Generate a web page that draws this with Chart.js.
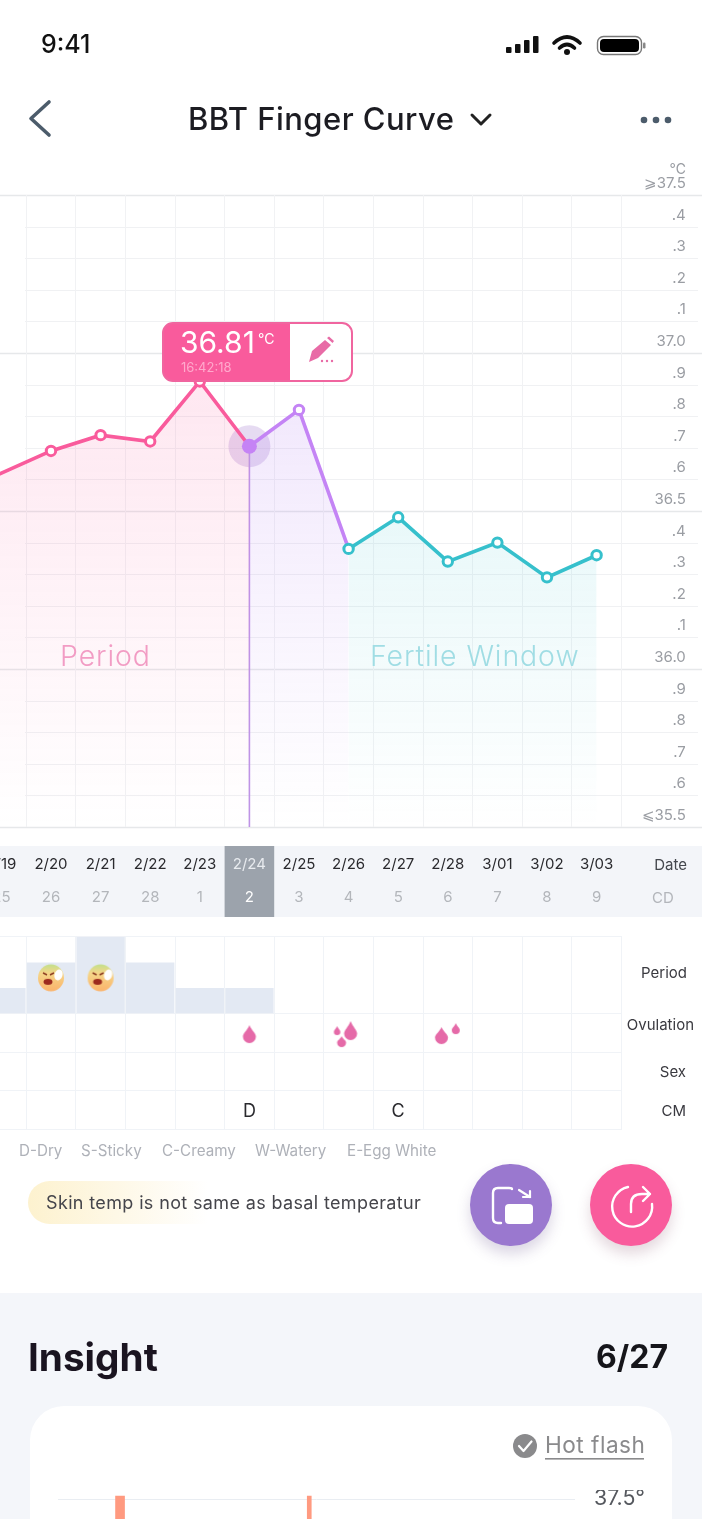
<!DOCTYPE html>
<html><head><meta charset="utf-8">
<script src="https://cdn.jsdelivr.net/npm/chart.js@4"></script>
<style>
html,body{margin:0;padding:0;background:#fff;overflow:hidden}
#page{position:relative;width:702px;height:1519px;overflow:hidden;background:#fff;font-family:Inter,"Noto Sans",sans-serif;color:#222}
.t{position:absolute;white-space:nowrap;transform:translateY(-50%);line-height:1}
.abs{position:absolute}
canvas{position:absolute;display:block}
svg{position:absolute;overflow:visible}
</style></head><body><div id="page">
<div class="abs" style="left:0;top:846px;width:702px;height:71px;background:#f3f5f9"></div>
<div class="abs" style="left:0;top:1293px;width:702px;height:226px;background:#f4f6fa"></div>
<div class="abs" style="left:30px;top:1406px;width:642px;height:200px;background:#fff;border-radius:34px"></div>
<canvas id="main" style="left:-50px;top:150px"></canvas>
<div class="abs" style="left:0;top:930px;width:621.6px;height:210px;overflow:hidden"><canvas id="rows" style="left:-50px;top:0"></canvas></div>
<canvas id="insight" style="left:0;top:1490px"></canvas>
<div class="abs" style="left:28px;top:1181px;width:400px;height:43px;border-radius:22px;background:linear-gradient(90deg,#fdf2cf 0%,#fef8e6 22%,#fff 45%)"></div>
<div class="abs" style="left:470px;top:1164px;width:82px;height:82px;border-radius:50%;background:#9a78cf;box-shadow:0 8px 14px rgba(90,70,130,.22)"></div>
<div class="abs" style="left:590px;top:1164px;width:82px;height:82px;border-radius:50%;background:#f95b9c;box-shadow:0 8px 14px rgba(120,60,90,.2)"></div>
<svg style="left:0;top:0" width="702" height="1519" viewBox="0 0 702 1519">
  <g fill="#111"><rect x="506" y="47" width="5.5" height="6" rx="1"/><rect x="515" y="44" width="5.5" height="9" rx="1"/><rect x="524" y="40" width="5.5" height="13" rx="1"/><rect x="533" y="36" width="5.5" height="17" rx="1"/></g>
  <g fill="none" stroke="#111" stroke-width="3.6" stroke-linecap="round"><path d="M554 43 Q567 31 580 43"/><path d="M559.5 48 Q567 41 574.5 48"/></g><circle cx="567" cy="52" r="3" fill="#111"/>
  <rect x="597.5" y="36.5" width="44" height="18" rx="6" fill="none" stroke="#777" stroke-width="1.4"/><rect x="600" y="39" width="39" height="13" rx="4" fill="#000"/><rect x="643" y="42.5" width="2.5" height="6" rx="1.2" fill="#888"/>
  <path d="M49 102 L31 118.500 L49 135" fill="none" stroke="#4c5c6b" stroke-width="3.6" stroke-linecap="round" stroke-linejoin="round"/>
  <path d="M472 115 L481 124 L490 115" fill="none" stroke="#222" stroke-width="3" stroke-linecap="round" stroke-linejoin="round"/>
  <g fill="#4c5c6b"><circle cx="644" cy="120" r="3.300"/><circle cx="656" cy="120" r="3.300"/><circle cx="668" cy="120" r="3.300"/></g>
  <path d="M512 1189 Q512 1188 509 1188 H498 Q493 1188 493 1193 V1218 Q493 1223 498 1223 H501" fill="none" stroke="#fff" stroke-width="2.4" stroke-linecap="round"/>
  <rect x="505" y="1204" width="28" height="20" rx="4" fill="#fff"/>
  <path d="M519 1190 L530 1197 M530 1191 V1197 H523" fill="none" stroke="#fff" stroke-width="2.2" stroke-linecap="round"/>
  <path d="M628 1187 A20 20 0 1 0 652 1204" fill="none" stroke="#fff" stroke-width="2.4" stroke-linecap="round"/>
  <path d="M631 1212 V1204 Q631 1194 642 1194 H650 M643 1187 L650 1194 L643 1201" fill="none" stroke="#fff" stroke-width="2.4" stroke-linecap="round" stroke-linejoin="round"/>
  <circle cx="525" cy="1446" r="12" fill="#8a8a8c"/><path d="M519 1446 L523.500 1451 L531.500 1441.500" fill="none" stroke="#fff" stroke-width="2.2" stroke-linecap="round" stroke-linejoin="round"/>
  <rect x="545" y="1458" width="99" height="1.6" fill="#8a8a8c"/>
</svg>
<div class="abs" style="left:162px;top:322px;width:191px;height:60px;box-sizing:border-box;border:2px solid #f0659f;border-radius:11px;background:linear-gradient(90deg,#f95b9c 0,#f95b9c 126px,#fff 126px)"></div>
<svg style="left:0;top:0" width="702" height="600">
  <path d="M309 362 L312 351 L325 340 L331 345 L318 358 Z M327 338 L329 336.500 L334 341 L332.500 343 Z" fill="#e86ba6"/>
  <g fill="#e86ba6"><circle cx="322" cy="361" r="1.200"/><circle cx="327" cy="361" r="1.200"/><circle cx="332" cy="361" r="1.200"/></g>
</svg>
<div id="texts"></div>
</div>
<script>
// ---- main temperature curve ----
const dates = ['2/18','2/19','2/20','2/21','2/22','2/23','2/24','2/25','2/26','2/27','2/28','3/01','3/02','3/03','',''];
const cycleDays = ['24','25','26','27','28','1','2','3','4','5','6','7','8','9','',''];
const periodTemps = [36.55,36.62,36.69,36.74,36.72,36.91,36.705,null,null,null,null,null,null,null,null,null];
const ovulationTemps = [null,null,null,null,null,null,36.705,36.82,36.38,null,null,null,null,null,null,null];
const fertileTemps = [null,null,null,null,null,null,null,null,36.38,36.48,36.34,36.40,36.29,36.36,null,null];
const selectedTemps = [null,null,null,null,null,null,36.705,null,null,null,null,null,null,null,null,null];
const selectedDate = '2/24';
const tempTickLabels = {'37.5':'\u2A7E37.5','37.4':'.4','37.3':'.3','37.2':'.2','37.1':'.1','37.0':'37.0','36.9':'.9','36.8':'.8','36.7':'.7','36.6':'.6','36.5':'36.5','36.4':'.4','36.3':'.3','36.2':'.2','36.1':'.1','36.0':'36.0','35.9':'.9','35.8':'.8','35.7':'.7','35.6':'.6','35.5':'\u2A7D35.5'};
// ---- lower table ----
const periodFlow = [1,1,2,3,2,1,1,0,0,0,0,0,0,0,0,0];
const moodRow = [null,null,1.4,1.4,null,null,null,null,null,null,null,null,null,null,null,null];
const dropCounts = [0,0,0,0,0,0,1,0,3,0,2,0,0,0,0,0];
const cmRow = ['','','','','','','D','','','C','','','','','',''];
// ---- insight card ----
const hotFlashX = [12,48.6];
const hotFlashTop = [37.52,37.52];

const FONT = 'Inter, "Noto Sans", sans-serif';
const W = 752, PADL = 1.8, PADR = 6.2;
Chart.defaults.font.family = FONT;
const texts = document.getElementById('texts');
function T(s,x,y,size,color,opt={}){
  const e=document.createElement('span');e.className='t';e.textContent=s;
  e.style.cssText=`top:${y}px;font-size:${size}px;color:${color};font-weight:${opt.w||400};letter-spacing:${opt.ls||0}px;`+
   (opt.right!==undefined?`right:${702-opt.right}px;`:opt.center?`left:${x}px;transform:translate(-50%,-50%);`:`left:${x}px;`);
  texts.appendChild(e);
}
function sizeCanvas(c,w,h){c.width=w;c.height=h;c.style.width=w+'px';c.style.height=h+'px';}
function noPad(s){s.paddingLeft=0;s.paddingRight=0;s.paddingTop=0;s.paddingBottom=0;}

function grad(ctx,top,bottom,c0,c1){
  const g=ctx.chart.ctx.createLinearGradient(0,top,0,bottom);g.addColorStop(0,c0);g.addColorStop(1,c1);return g;
}

const gridPlugin={id:'tempGrid',beforeDraw(chart){
  const {ctx,scales:{x,y}}=chart;
  const sx=x.getPixelForValue(selectedDate), half=(x.getPixelForValue(dates[1])-x.getPixelForValue(dates[0]))/2;
  ctx.save();ctx.fillStyle='#9ca3ac';ctx.fillRect(sx-half,696,half*2,71);
  y.ticks.forEach(t=>{
    const yy=Math.round(y.getPixelForValue(t.value))+.5;
    const major=Math.abs(t.value*2-Math.round(t.value*2))<1e-6;
    ctx.strokeStyle=major?'#e6e8ea':'#f0f1f3';ctx.lineWidth=major?1.5:1.2;
    ctx.beginPath();ctx.moveTo(major?0:75,yy);ctx.lineTo(major?752:748,yy);ctx.stroke();
  });
  ctx.restore();
},beforeDatasetsDraw(chart){
  const {ctx,scales:{x,y},chartArea:a}=chart;
  const sx=x.getPixelForValue(selectedDate);
  ctx.save();ctx.strokeStyle='#bf94e6';ctx.lineWidth=1.6;ctx.beginPath();
  ctx.moveTo(sx,y.getPixelForValue(selectedTemps[6]));ctx.lineTo(sx,a.bottom);ctx.stroke();ctx.restore();
}};

const mainCanvas=document.getElementById('main');sizeCanvas(mainCanvas,W,780);
function lineSet(label,data,color,fill0,radii,fillTop){
  return {label,data,borderColor:color,borderWidth:3.6,tension:0,spanGaps:false,clip:false,
    pointRadius:radii,pointBorderWidth:3,pointBorderColor:color,pointBackgroundColor:'#fff',
    fill:'start',backgroundColor:c=>grad(c,fillTop,677,fill0,fill0.replace(/[\d.]+\)$/,'0)'))};
}
const mainChart=new Chart(mainCanvas,{
  type:'line',plugins:[gridPlugin],
  data:{labels:dates,datasets:[
    {label:'selected',data:selectedTemps,pointRadius:7.5,pointBackgroundColor:'#c583f5',pointBorderWidth:0,showLine:false,clip:false},
    lineSet('fertile',fertileTemps,'#36c0cc','rgba(54,192,204,0.11)',4.7,370),
    lineSet('ovulation',ovulationTemps,'#c484f5','rgba(176,120,240,0.17)',[0,0,0,0,0,0,0,4.7,0,0,0,0,0,0,0,0],250),
    lineSet('period',periodTemps,'#f95b9c','rgba(249,91,156,0.15)',[0,0,4.7,4.7,4.7,4.7,0,0,0,0,0,0,0,0,0,0],220),
    {label:'halo',data:selectedTemps,pointRadius:21,pointBackgroundColor:'rgba(190,160,220,0.38)',pointBorderWidth:0,showLine:false,clip:false}
  ]},
  options:{responsive:false,animation:false,
    layout:{autoPadding:false,padding:{top:45,left:PADL,right:PADR,bottom:0}},
    plugins:{legend:{display:false},tooltip:{enabled:false}},
    scales:{
      x:{type:'category',offset:false,position:'bottom',
        grid:{offset:true,drawTicks:false,tickLength:0,color:c=>c.index>=15?'rgba(0,0,0,0)':'#f1f2f4',lineWidth:1},
        border:{display:false},
        ticks:{autoSkip:false,maxRotation:0,minRotation:0,padding:28.5,font:{size:15},
          color:c=>dates[c.index]===selectedDate?'#e8ebef':'#2a2a2e'},
        afterFit(s){noPad(s);s.height=56;}},
      x2:{type:'category',labels:cycleDays,offset:false,position:'bottom',
        grid:{display:false,drawTicks:false,tickLength:0},border:{display:false},
        ticks:{autoSkip:false,maxRotation:0,minRotation:0,padding:5,font:{size:15},
          color:c=>dates[c.index]===selectedDate?'#ffffff':'#b3b6bb'},
        afterFit(s){noPad(s);s.height=47;}},
      y:{min:35.5,max:37.5,position:'right',
        grid:{display:false,drawTicks:false,tickLength:0},border:{display:false},
        ticks:{stepSize:0.1,autoSkip:false,mirror:true,padding:-10,labelOffset:-11.5,font:{size:15},color:'#9a9da3',
          callback:v=>tempTickLabels[Number(v).toFixed(1)]||''},
        afterFit(s){noPad(s);s.width=0;}}
    }
  }
});

function sprite(w,h,paint){const c=document.createElement('canvas');c.width=w;c.height=h;const g=c.getContext('2d');g.translate(w/2,h/2);paint(g);return c;}
function drop(g,cx,top,w,h){
  const r=w/2,cy=top+h-r;g.fillStyle='#e56aa8';g.beginPath();g.moveTo(cx,top);
  g.bezierCurveTo(cx+r*.35,top+h*.3,cx+r,cy-r*.5,cx+r,cy);g.arc(cx,cy,r,0,Math.PI);
  g.bezierCurveTo(cx-r,cy-r*.5,cx-r*.35,top+h*.3,cx,top);g.fill();
}
const dropSprites={
 1:sprite(40,40,g=>drop(g,0,-8,13,18)),
 3:sprite(40,40,g=>{drop(g,2,-12,13,19);drop(g,-11.5,-7,6.5,9);drop(g,-7,3,9,11);}),
 2:sprite(40,40,g=>{drop(g,-6.3,-6,13,17);drop(g,8,-10,8,11);})
};
const moodSprite=sprite(30,30,g=>{
  const b=g.createLinearGradient(0,-14,0,14);b.addColorStop(0,'#bfe08a');b.addColorStop(.32,'#f5d78a');b.addColorStop(1,'#fbb26a');
  g.fillStyle=b;g.beginPath();g.ellipse(0,0,13,13.5,0,0,7);g.fill();
  g.fillStyle='#9c2a1e';g.beginPath();g.ellipse(-3,4,4.5,3,0,0,7);g.fill();
  g.strokeStyle='#8a3a20';g.lineWidth=1.4;g.beginPath();g.moveTo(-8,-5);g.lineTo(-4,-3);g.moveTo(3,-5);g.lineTo(-1,-3);g.stroke();
  g.fillStyle='#fff';g.beginPath();g.ellipse(7.5,-3,4,5.5,.3,0,7);g.fill();
});

const rowsCanvas=document.getElementById('rows');sizeCanvas(rowsCanvas,W,210);
const LINE='#f0f3f7';
const rowsChart=new Chart(rowsCanvas,{
  type:'bar',
  data:{labels:dates,datasets:[
    {type:'line',label:'mood',data:moodRow,yAxisID:'yFlow',showLine:false,clip:false,
      pointStyle:moodSprite,pointRadius:13},
    {type:'line',label:'drops',data:dropCounts.map(n=>n?2.5:null),yAxisID:'yRows',showLine:false,clip:false,
      pointStyle:dropCounts.map(n=>dropSprites[n]||'circle'),pointRadius:13},
    {type:'bar',label:'flow',data:periodFlow,yAxisID:'yFlow',backgroundColor:'#e3e9f3',
      categoryPercentage:1,barPercentage:.975,order:5}
  ]},
  options:{responsive:false,animation:false,
    layout:{autoPadding:false,padding:{top:6.7,left:PADL,right:PADR,bottom:10.5}},
    plugins:{legend:{display:false},tooltip:{enabled:false}},
    scales:{
      x:{type:'category',offset:false,position:'bottom',
        grid:{offset:true,drawTicks:false,tickLength:0,color:LINE,lineWidth:1},border:{display:false},
        ticks:{display:false},afterFit(s){noPad(s);s.height=0;}},
      yFlow:{type:'linear',min:0,max:3,position:'right',stack:'table',stackWeight:2,
        grid:{color:c=>c.tick&&c.tick.value===3?LINE:'rgba(0,0,0,0)',drawTicks:false,tickLength:0},border:{display:false},
        ticks:{display:false,stepSize:3},afterFit(s){noPad(s);s.width=0;}},
      yRows:{type:'linear',min:0,max:3,position:'right',stack:'table',stackWeight:3,
        grid:{color:LINE,drawTicks:false,tickLength:0},border:{display:false},
        ticks:{display:false,stepSize:1},afterFit(s){noPad(s);s.width=0;}}
    }
  }
});

const insCanvas=document.getElementById('insight');sizeCanvas(insCanvas,660,300);
new Chart(insCanvas,{
  type:'bar',
  data:{datasets:[
    {label:'Hot flash',data:[{x:hotFlashX[0],y:hotFlashTop[0]}],backgroundColor:'#ff9a80',barThickness:9,clip:false},
    {label:'Hot flash 2',data:[{x:hotFlashX[1],y:hotFlashTop[1]}],backgroundColor:'#ff9a80',barThickness:4,clip:false}
  ]},
  options:{responsive:false,animation:false,
    datasets:{bar:{grouped:false}},
    layout:{autoPadding:false,padding:{top:9,left:58,right:0,bottom:0}},
    plugins:{legend:{display:false},tooltip:{enabled:false}},
    scales:{
      x:{type:'linear',min:0,max:100,display:false,offset:false,afterFit:noPad},
      y:{min:35.5,max:37.5,position:'right',
        grid:{color:c=>c.tick.value===37.5?'#e9edf2':'rgba(0,0,0,0)',drawTicks:false,tickLength:0},border:{display:false},
        ticks:{stepSize:2,padding:19,font:{size:21.3},color:'#55585e',callback:v=>v===37.5?'37.5\u00B0':''},
        afterFit(s){noPad(s);s.width=85;}}
    }
  }
});

T('9:41',41,44,25,'#111',{w:500});
T('BBT Finger Curve',188,117.500,31,'#1c1c22',{w:500,ls:.45});
T('\u2103',0,169,14,'#9a9da3',{right:686});
T('36.81',180,342,30,'#fff',{w:400});
T('\u00B0C',258,339,14,'#fff');
T('16:42:18',181,366.500,13,'#ffa9cc');
T('Period',60,656,28.5,'#f29cc4',{w:300,ls:.9});
T('Fertile Window',370,656,28.5,'#a0dde4',{w:300,ls:.9});
T('Date',0,863.500,15,'#44474d',{right:687});
T('CD',652,896.500,15,'#b3b6bb');
[['Period',972,687],['Ovulation',1023.500,694],['Sex',1071,686],['CM',1110,686]].forEach(r=>T(r[0],0,r[1],15,'#3a3a40',{right:r[2]}));
cmRow.forEach((s,i)=>{ if(s) T(s,rowsChart.scales.x.getPixelForValue(dates[i])-50,rowsChart.scales.yRows.getPixelForValue(.5)+930+1,18,'#2a2a2e',{center:true}); });
[['D-Dry',19],['S-Sticky',81],['C-Creamy',162],['W-Watery',255],['E-Egg White',347]].forEach(l=>T(l[0],l[1],1151,15.2,'#aeb1b8'));
T('Skin temp is not same as basal temperatur',46,1203,18,'#45454b',{ls:.36});
T('Insight',28,1357,38.7,'#1a1420',{w:700});
T('6/27',0,1356.500,32,'#15151a',{w:700,right:668});
T('Hot flash',545,1445,22.6,'#8a8a8c',{ls:.5});
</script></body></html>
